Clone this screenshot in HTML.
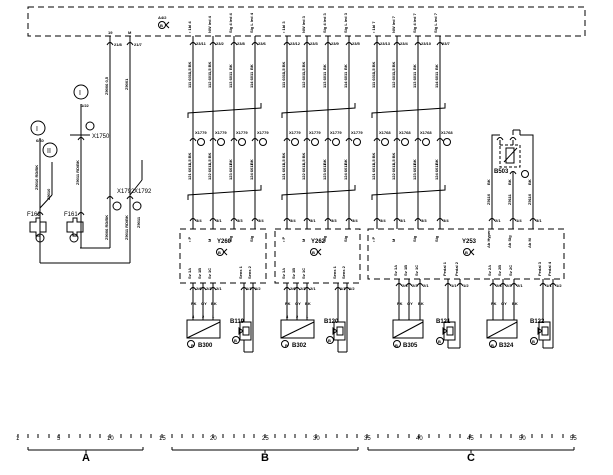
<!DOCTYPE html>
<html><head><meta charset="utf-8"><style>
html,body{margin:0;padding:0;background:#fff}
svg{display:block}
text{font-family:"Liberation Sans",sans-serif;fill:#000}
.t{font-size:4px;font-weight:bold}
.m{font-size:6px}
.l{font-size:7px}
.big{font-size:11px;font-weight:bold}
</style></head><body>
<svg width="613" height="475" viewBox="0 0 613 475" xmlns="http://www.w3.org/2000/svg">
<g stroke="#000" fill="none" stroke-width="1">
<!-- top dashed box -->
<rect x="28" y="7" width="557" height="29" stroke-dasharray="6,4"/>
</g>
<text x="158" y="19" class="t">A4/2</text>
<circle cx="162" cy="25" r="3.5" stroke="#000" fill="none"/><text x="160" y="27" class="t">B</text>
<path d="M169 22 L166 25 L169 28" stroke="#000" fill="none"/>

<!-- Section A -->
<g stroke="#000" fill="none" stroke-width="1">
<line x1="110" y1="36" x2="110" y2="248"/>
<line x1="130" y1="36" x2="130" y2="263"/>
<path d="M107 45 Q110 40 113 45"/><path d="M127 45 Q130 40 133 45"/>
<path d="M107 199 Q110 194 113 199"/><path d="M127 199 Q130 194 133 199"/>
<line x1="142" y1="160" x2="142" y2="180"/><line x1="142" y1="180" x2="130" y2="195"/>
<line x1="110" y1="248" x2="80" y2="248"/>
<line x1="40" y1="263" x2="130" y2="263"/>
<circle cx="81" cy="92" r="7"/>
<line x1="81" y1="104" x2="81" y2="248"/>
<line x1="70" y1="135" x2="90" y2="135"/>
<path d="M78 140 Q81 135 84 140"/>
<circle cx="38" cy="128" r="7"/>
<circle cx="50" cy="150" r="7"/>
<line x1="40" y1="138" x2="40" y2="263"/>
<line x1="52" y1="162" x2="52" y2="195"/><line x1="52" y1="195" x2="40" y2="208"/>
<!-- fuses -->
<path d="M30 222 h6 v-4 h4 v4 h6 v10 h-6 v4 h-4 v-4 h-6 z"/>
<path d="M67 222 h6 v-4 h4 v4 h6 v10 h-6 v4 h-4 v-4 h-6 z"/>
<path d="M37 215 Q40 210 43 215"/><path d="M78 215 Q81 210 84 215"/>
<circle cx="40" cy="238" r="4"/><circle cx="74" cy="238" r="4"/>
<circle cx="117" cy="206" r="4"/><circle cx="137" cy="206" r="4"/>
<circle cx="90" cy="126" r="4"/>
</g>
<text x="79" y="95" class="l">I</text><text x="81" y="107" class="t">1/22</text>
<text x="36" y="131" class="l">I</text><text x="47" y="153" class="l">II</text>
<text x="36" y="142" class="t">6/60</text>
<text x="27" y="216" class="m">F162</text><text x="64" y="216" class="m">F161</text>
<text x="117" y="193" class="m">X1792</text><text x="134" y="193" class="m">X1792</text>
<text x="92" y="138" class="m">X1750</text>
<text x="108" y="34" class="t">19</text><text x="128" y="34" class="t">M</text>
<text x="114" y="46" class="t">21/8</text><text x="134" y="46" class="t">21/7</text>
<g class="t">
<text transform="translate(108,95) rotate(-90)">Z9006 0,5</text>
<text transform="translate(128,90) rotate(-90)">Z9001</text>
<text transform="translate(108,240) rotate(-90)">Z9006 RD/BK</text>
<text transform="translate(128,240) rotate(-90)">Z9011 RD/BK</text>
<text transform="translate(79,185) rotate(-90)">Z9011 RD/BK</text>
<text transform="translate(38,190) rotate(-90)">Z9010 RD/BK</text>
<text transform="translate(50,200) rotate(-90)">Z9010</text>
<text transform="translate(140,228) rotate(-90)">Z9011</text>
</g>

<!-- group template B1 -->
<g id="g1">
<g stroke="#000" fill="none">
<line x1="193" y1="36" x2="193" y2="229"/><line x1="213" y1="36" x2="213" y2="229"/>
<line x1="234" y1="36" x2="234" y2="229"/><line x1="255" y1="36" x2="255" y2="229"/>
<path d="M190 45 Q193 40 196 45"/><path d="M210 45 Q213 40 216 45"/><path d="M231 45 Q234 40 237 45"/><path d="M252 45 Q255 40 258 45"/>
<path d="M190 141 Q193 136 196 141"/><path d="M210 141 Q213 136 216 141"/><path d="M231 141 Q234 136 237 141"/><path d="M252 141 Q255 136 258 141"/>
<path d="M190 221 Q193 216 196 221"/><path d="M210 221 Q213 216 216 221"/><path d="M231 221 Q234 216 237 221"/><path d="M252 221 Q255 216 258 221"/>
<path d="M188 118 V113 L261 108 V103"/>
<path d="M188 200 V195 L261 190 V185"/>
<circle cx="201" cy="142" r="3.5"/><circle cx="221" cy="142" r="3.5"/><circle cx="242" cy="142" r="3.5"/><circle cx="263" cy="142" r="3.5"/>
</g>
<g class="t">
<text x="195" y="134">X1779</text><text x="215" y="134">X1779</text><text x="236" y="134">X1779</text><text x="257" y="134">X1779</text>
<text x="196" y="45">23/11</text><text x="216" y="45">23/2</text><text x="237" y="45">23/8</text><text x="258" y="45">23/6</text>
<text transform="translate(191,33) rotate(-90)">• 1bI 4</text><text transform="translate(211,33) rotate(-90)">NW led 4</text>
<text transform="translate(232,33) rotate(-90)">Sig 4 led 4</text><text transform="translate(253,33) rotate(-90)">Sig L led 4</text>
<text transform="translate(191,74) rotate(-90)">1,5 BK</text><text transform="translate(211,74) rotate(-90)">1,5 BK</text><text transform="translate(232,70) rotate(-90)">BK</text><text transform="translate(253,70) rotate(-90)">BK</text>
<text transform="translate(191,88) rotate(-90)">111 6011</text><text transform="translate(211,88) rotate(-90)">112 6011</text><text transform="translate(232,88) rotate(-90)">113 6011</text><text transform="translate(253,88) rotate(-90)">114 6011</text>
<text transform="translate(191,165) rotate(-90)">1,5 BK</text><text transform="translate(211,165) rotate(-90)">1,5 BK</text><text transform="translate(232,165) rotate(-90)">BK</text><text transform="translate(253,165) rotate(-90)">BK</text>
<text transform="translate(191,180) rotate(-90)">121 6011</text><text transform="translate(211,180) rotate(-90)">122 6011</text><text transform="translate(232,180) rotate(-90)">123 6011</text><text transform="translate(253,180) rotate(-90)">124 6011</text>
<text x="196" y="222">3/4</text><text x="216" y="222">3/1</text><text x="237" y="222">3/3</text><text x="258" y="222">3/4</text>
<text transform="translate(191,242) rotate(-90)">• P</text><text transform="translate(211,242) rotate(-90)">M</text><text transform="translate(232,242) rotate(-90)">Sig</text><text transform="translate(253,242) rotate(-90)">Sig</text>
<text transform="translate(191,279) rotate(-90)">Sv 1A</text><text transform="translate(201,279) rotate(-90)">Sv 1B</text><text transform="translate(211,279) rotate(-90)">Sv 1C</text>
<text transform="translate(242,279) rotate(-90)">Sens 1</text><text transform="translate(251,279) rotate(-90)">Sens 2</text>
<text x="196" y="290">2/6</text><text x="206" y="290">2/3</text><text x="216" y="290">2/1</text><text x="246" y="290">1/1</text><text x="255" y="290">1/2</text>
</g>
<g stroke="#000" fill="none">
<rect x="180" y="229" width="86" height="54" stroke-dasharray="6,4"/>
<line x1="193" y1="283" x2="193" y2="320"/><line x1="203" y1="283" x2="203" y2="320"/><line x1="213" y1="283" x2="213" y2="320"/>
<path d="M190 290 Q193 285 196 290"/><path d="M200 290 Q203 285 206 290"/><path d="M210 290 Q213 285 216 290"/>
<path d="M241 290 Q244 285 247 290"/><path d="M250 290 Q253 285 256 290"/>
<rect x="187" y="320" width="33" height="18"/><line x1="187" y1="338" x2="220" y2="322"/>
<line x1="244" y1="283" x2="244" y2="322"/><line x1="253" y1="283" x2="253" y2="352"/>
<line x1="253" y1="352" x2="244" y2="352"/><line x1="244" y1="352" x2="244" y2="340"/>
<rect x="240" y="322" width="11" height="18"/><rect x="243" y="327" width="6" height="8"/>
<path d="M243 331 L239 328 V334 Z"/>
<circle cx="191" cy="344" r="3.5"/><circle cx="236" cy="340" r="3.5"/>
<circle cx="220" cy="252" r="3.5"/><path d="M227 249 L224 252 L227 255"/>
</g>
<g class="t">
<text x="191" y="347">B</text><text x="198" y="347" class="m">B300</text>
<text x="230" y="323" class="m">B119</text><text x="234" y="342">B</text>
<text x="217" y="243" class="m">Y260</text><text x="218" y="254">B</text>
<text x="191" y="305">PK</text><text x="201" y="305">GY</text><text x="211" y="305">BK</text>
<text x="192" y="318">4</text><text x="202" y="318">2</text><text x="212" y="318">1</text>
</g>
</g>
<!-- B2 -->
<g transform="translate(94,0)">
<g stroke="#000" fill="none">
<line x1="193" y1="36" x2="193" y2="229"/><line x1="213" y1="36" x2="213" y2="229"/>
<line x1="234" y1="36" x2="234" y2="229"/><line x1="255" y1="36" x2="255" y2="229"/>
<path d="M190 45 Q193 40 196 45"/><path d="M210 45 Q213 40 216 45"/><path d="M231 45 Q234 40 237 45"/><path d="M252 45 Q255 40 258 45"/>
<path d="M190 141 Q193 136 196 141"/><path d="M210 141 Q213 136 216 141"/><path d="M231 141 Q234 136 237 141"/><path d="M252 141 Q255 136 258 141"/>
<path d="M190 221 Q193 216 196 221"/><path d="M210 221 Q213 216 216 221"/><path d="M231 221 Q234 216 237 221"/><path d="M252 221 Q255 216 258 221"/>
<path d="M188 118 V113 L261 108 V103"/>
<path d="M188 200 V195 L261 190 V185"/>
<circle cx="201" cy="142" r="3.5"/><circle cx="221" cy="142" r="3.5"/><circle cx="242" cy="142" r="3.5"/><circle cx="263" cy="142" r="3.5"/>
<rect x="181" y="229" width="85" height="54" stroke-dasharray="6,4"/>
<line x1="193" y1="283" x2="193" y2="320"/><line x1="203" y1="283" x2="203" y2="320"/><line x1="213" y1="283" x2="213" y2="320"/>
<path d="M190 290 Q193 285 196 290"/><path d="M200 290 Q203 285 206 290"/><path d="M210 290 Q213 285 216 290"/>
<path d="M241 290 Q244 285 247 290"/><path d="M250 290 Q253 285 256 290"/>
<rect x="187" y="320" width="33" height="18"/><line x1="187" y1="338" x2="220" y2="322"/>
<line x1="244" y1="283" x2="244" y2="322"/><line x1="253" y1="283" x2="253" y2="352"/>
<line x1="253" y1="352" x2="244" y2="352"/><line x1="244" y1="352" x2="244" y2="340"/>
<rect x="240" y="322" width="11" height="18"/><rect x="243" y="327" width="6" height="8"/>
<path d="M243 331 L239 328 V334 Z"/>
<circle cx="191" cy="344" r="3.5"/><circle cx="236" cy="340" r="3.5"/>
<circle cx="220" cy="252" r="3.5"/><path d="M227 249 L224 252 L227 255"/>
</g>
<g class="t">
<text x="195" y="134">X1779</text><text x="215" y="134">X1779</text><text x="236" y="134">X1779</text><text x="257" y="134">X1779</text>
<text x="196" y="45">23/12</text><text x="216" y="45">23/3</text><text x="237" y="45">23/9</text><text x="258" y="45">23/5</text>
<text transform="translate(191,33) rotate(-90)">• 1bI 3</text><text transform="translate(211,33) rotate(-90)">NW led 3</text>
<text transform="translate(232,33) rotate(-90)">Sig 4 led 3</text><text transform="translate(253,33) rotate(-90)">Sig L led 3</text>
<text transform="translate(191,74) rotate(-90)">1,5 BK</text><text transform="translate(211,74) rotate(-90)">1,5 BK</text><text transform="translate(232,70) rotate(-90)">BK</text><text transform="translate(253,70) rotate(-90)">BK</text>
<text transform="translate(191,88) rotate(-90)">111 6011</text><text transform="translate(211,88) rotate(-90)">112 6011</text><text transform="translate(232,88) rotate(-90)">113 6011</text><text transform="translate(253,88) rotate(-90)">114 6011</text>
<text transform="translate(191,165) rotate(-90)">1,5 BK</text><text transform="translate(211,165) rotate(-90)">1,5 BK</text><text transform="translate(232,165) rotate(-90)">BK</text><text transform="translate(253,165) rotate(-90)">BK</text>
<text transform="translate(191,180) rotate(-90)">121 6011</text><text transform="translate(211,180) rotate(-90)">122 6011</text><text transform="translate(232,180) rotate(-90)">123 6011</text><text transform="translate(253,180) rotate(-90)">124 6011</text>
<text x="196" y="222">3/4</text><text x="216" y="222">3/1</text><text x="237" y="222">3/3</text><text x="258" y="222">3/4</text>
<text transform="translate(191,242) rotate(-90)">• P</text><text transform="translate(211,242) rotate(-90)">M</text><text transform="translate(232,242) rotate(-90)">Sig</text><text transform="translate(253,242) rotate(-90)">Sig</text>
<text transform="translate(191,279) rotate(-90)">Sv 1A</text><text transform="translate(201,279) rotate(-90)">Sv 1B</text><text transform="translate(211,279) rotate(-90)">Sv 1C</text>
<text transform="translate(242,279) rotate(-90)">Sens 1</text><text transform="translate(251,279) rotate(-90)">Sens 2</text>
<text x="196" y="290">2/6</text><text x="206" y="290">2/3</text><text x="216" y="290">2/1</text><text x="246" y="290">1/1</text><text x="255" y="290">1/2</text>
<text x="191" y="347">B</text><text x="198" y="347" class="m">B302</text>
<text x="230" y="323" class="m">B120</text><text x="234" y="342">B</text>
<text x="217" y="243" class="m">Y262</text><text x="218" y="254">B</text>
<text x="191" y="305">PK</text><text x="201" y="305">GY</text><text x="211" y="305">BK</text>
<text x="192" y="318">4</text><text x="202" y="318">2</text><text x="212" y="318">1</text>
</g>
</g>
<!-- C left wires -->
<g transform="translate(184,0)">
<g stroke="#000" fill="none">
<line x1="193" y1="36" x2="193" y2="229"/><line x1="213" y1="36" x2="213" y2="229"/>
<line x1="234" y1="36" x2="234" y2="229"/><line x1="256" y1="36" x2="256" y2="229"/>
<path d="M190 45 Q193 40 196 45"/><path d="M210 45 Q213 40 216 45"/><path d="M231 45 Q234 40 237 45"/><path d="M253 45 Q256 40 259 45"/>
<path d="M190 141 Q193 136 196 141"/><path d="M210 141 Q213 136 216 141"/><path d="M231 141 Q234 136 237 141"/><path d="M253 141 Q256 136 259 141"/>
<path d="M190 221 Q193 216 196 221"/><path d="M210 221 Q213 216 216 221"/><path d="M231 221 Q234 216 237 221"/><path d="M253 221 Q256 216 259 221"/>
<path d="M188 118 V113 L261 108 V103"/>
<path d="M188 200 V195 L261 190 V185"/>
<circle cx="201" cy="142" r="3.5"/><circle cx="221" cy="142" r="3.5"/><circle cx="242" cy="142" r="3.5"/><circle cx="263" cy="142" r="3.5"/>
</g>
<g class="t">
<text x="195" y="134">X1768</text><text x="215" y="134">X1768</text><text x="236" y="134">X1768</text><text x="257" y="134">X1768</text>
<text x="196" y="45">23/13</text><text x="216" y="45">23/4</text><text x="237" y="45">23/10</text><text x="258" y="45">23/7</text>
<text transform="translate(191,33) rotate(-90)">• 1bI 7</text><text transform="translate(211,33) rotate(-90)">NW led 7</text>
<text transform="translate(232,33) rotate(-90)">Sig 4 led 7</text><text transform="translate(253,33) rotate(-90)">Sig L led 7</text>
<text transform="translate(191,74) rotate(-90)">1,5 BK</text><text transform="translate(211,74) rotate(-90)">1,5 BK</text><text transform="translate(232,70) rotate(-90)">BK</text><text transform="translate(254,70) rotate(-90)">BK</text>
<text transform="translate(191,88) rotate(-90)">111 6011</text><text transform="translate(211,88) rotate(-90)">112 6011</text><text transform="translate(232,88) rotate(-90)">113 6011</text><text transform="translate(254,88) rotate(-90)">114 6011</text>
<text transform="translate(191,165) rotate(-90)">1,5 BK</text><text transform="translate(211,165) rotate(-90)">1,5 BK</text><text transform="translate(232,165) rotate(-90)">BK</text><text transform="translate(254,165) rotate(-90)">BK</text>
<text transform="translate(191,180) rotate(-90)">121 6011</text><text transform="translate(211,180) rotate(-90)">122 6011</text><text transform="translate(232,180) rotate(-90)">123 6011</text><text transform="translate(254,180) rotate(-90)">124 6011</text>
<text x="196" y="222">3/4</text><text x="216" y="222">3/1</text><text x="237" y="222">3/3</text><text x="259" y="222">3/4</text>
<text transform="translate(191,242) rotate(-90)">• P</text><text transform="translate(211,242) rotate(-90)">M</text><text transform="translate(232,242) rotate(-90)">Sig</text><text transform="translate(254,242) rotate(-90)">Sig</text>
</g>
</g>
<!-- C right -->
<g stroke="#000" fill="none">
<rect x="368" y="229" width="196" height="50" stroke-dasharray="6,4"/>
<path d="M492 229 V135 H500 M513 229 V172 M533 229 V135 H520"/>
<path d="M497 140 Q500 135 503 140"/><path d="M510 140 Q513 135 516 140"/>
<rect x="500" y="145" width="20" height="22" stroke-dasharray="3,2"/>
<rect x="506" y="148" width="8" height="15"/><line x1="504" y1="162" x2="517" y2="148"/>
<line x1="500" y1="140" x2="500" y2="145"/><line x1="513" y1="140" x2="513" y2="145"/>
<line x1="513" y1="135" x2="513" y2="130"/><line x1="513" y1="130" x2="520" y2="130"/><line x1="520" y1="130" x2="520" y2="135"/>
<path d="M510 174 Q513 169 516 174"/>
<circle cx="525" cy="174" r="3.5"/>
<path d="M489 221 Q492 216 495 221"/><path d="M510 221 Q513 216 516 221"/><path d="M530 221 Q533 216 536 221"/>
<circle cx="467" cy="252" r="3.5"/><path d="M474 249 L471 252 L474 255"/>
<!-- relays/sensors C -->
<line x1="399" y1="279" x2="399" y2="320"/><line x1="409" y1="279" x2="409" y2="320"/><line x1="420" y1="279" x2="420" y2="320"/>
<path d="M396 286 Q399 281 402 286"/><path d="M406 286 Q409 281 412 286"/><path d="M417 286 Q420 281 423 286"/>
<rect x="393" y="320" width="30" height="18"/><line x1="393" y1="338" x2="423" y2="322"/>
<circle cx="397" cy="344" r="3.5"/>
<line x1="448" y1="279" x2="448" y2="322"/><line x1="460" y1="279" x2="460" y2="348"/>
<path d="M445 286 Q448 281 451 286"/><path d="M457 286 Q460 281 463 286"/>
<line x1="460" y1="348" x2="448" y2="348"/><line x1="448" y1="348" x2="448" y2="340"/>
<rect x="444" y="322" width="11" height="18"/><rect x="447" y="327" width="6" height="8"/><path d="M447 331 L443 328 V334 Z"/>
<circle cx="440" cy="341" r="3.5"/>
<line x1="493" y1="279" x2="493" y2="320"/><line x1="503" y1="279" x2="503" y2="320"/><line x1="514" y1="279" x2="514" y2="320"/>
<path d="M490 286 Q493 281 496 286"/><path d="M500 286 Q503 281 506 286"/><path d="M511 286 Q514 281 517 286"/>
<rect x="487" y="320" width="30" height="18"/><line x1="487" y1="338" x2="517" y2="322"/>
<circle cx="493" cy="344" r="3.5"/>
<line x1="543" y1="279" x2="543" y2="322"/><line x1="553" y1="279" x2="553" y2="348"/>
<path d="M540 286 Q543 281 546 286"/><path d="M550 286 Q553 281 556 286"/>
<line x1="553" y1="348" x2="543" y2="348"/><line x1="543" y1="348" x2="543" y2="340"/>
<rect x="539" y="322" width="11" height="18"/><rect x="542" y="327" width="6" height="8"/><path d="M542 331 L538 328 V334 Z"/>
<circle cx="534" cy="341" r="3.5"/>
</g>
<g class="t">
<text x="494" y="173" class="m">B503</text>
<text x="462" y="243" class="m">Y253</text><text x="465" y="254">B</text>
<text transform="translate(490,205) rotate(-90)">Z9110</text><text transform="translate(511,205) rotate(-90)">Z9111</text><text transform="translate(531,205) rotate(-90)">Z9110</text>
<text transform="translate(490,185) rotate(-90)">BK</text><text transform="translate(511,185) rotate(-90)">BK</text><text transform="translate(531,185) rotate(-90)">BK</text>
<text x="495" y="222">2/1</text><text x="516" y="222">1/4</text><text x="536" y="222">3/1</text>
<text transform="translate(490,248) rotate(-90)">Ab Hyper</text><text transform="translate(511,248) rotate(-90)">Ab Sig</text><text transform="translate(531,248) rotate(-90)">Ab M</text>
<text transform="translate(397,276) rotate(-90)">Sv 1A</text><text transform="translate(407,276) rotate(-90)">Sv 1B</text><text transform="translate(418,276) rotate(-90)">Sv 1C</text>
<text transform="translate(446,276) rotate(-90)">Pedal 1</text><text transform="translate(458,276) rotate(-90)">Pedal 2</text>
<text transform="translate(491,276) rotate(-90)">Sv 2A</text><text transform="translate(501,276) rotate(-90)">Sv 2B</text><text transform="translate(512,276) rotate(-90)">Sv 2C</text>
<text transform="translate(541,276) rotate(-90)">Pedal 3</text><text transform="translate(551,276) rotate(-90)">Pedal 4</text>
<text x="402" y="287">2/6</text><text x="412" y="287">2/3</text><text x="423" y="287">2/1</text><text x="451" y="287">1/1</text><text x="463" y="287">1/2</text>
<text x="496" y="287">2/6</text><text x="506" y="287">2/3</text><text x="517" y="287">2/1</text><text x="546" y="287">1/1</text><text x="556" y="287">1/2</text>
<text x="397" y="305">PK</text><text x="407" y="305">GY</text><text x="418" y="305">BK</text>
<text x="491" y="305">PK</text><text x="501" y="305">GY</text><text x="512" y="305">BK</text>
<text x="395" y="347">B</text><text x="403" y="347" class="m">B305</text>
<text x="491" y="347">B</text><text x="499" y="347" class="m">B324</text>
<text x="436" y="323" class="m">B121</text><text x="438" y="343">B</text>
<text x="530" y="323" class="m">B122</text><text x="532" y="343">B</text>
</g>

<!-- scale -->
<g stroke="#000" fill="none">
<line x1="28" y1="450" x2="143" y2="450"/><line x1="28" y1="447" x2="28" y2="450"/><line x1="143" y1="447" x2="143" y2="450"/><line x1="86" y1="450" x2="86" y2="453"/>
<line x1="172" y1="450" x2="358" y2="450"/><line x1="172" y1="447" x2="172" y2="450"/><line x1="358" y1="447" x2="358" y2="450"/><line x1="265" y1="450" x2="265" y2="453"/>
<line x1="368" y1="450" x2="574" y2="450"/><line x1="368" y1="447" x2="368" y2="450"/><line x1="574" y1="447" x2="574" y2="450"/><line x1="471" y1="450" x2="471" y2="453"/>
<path d="M18 434v4M28 434v4M38 434v4M49 434v4M59 434v4M69 434v4M80 434v4M90 434v4M100 434v4M110 434v4M121 434v4M131 434v4M141 434v4M151 434v4M162 434v4M172 434v4M182 434v4M193 434v4M203 434v4M213 434v4M223 434v4M234 434v4M244 434v4M254 434v4M265 434v4M275 434v4M285 434v4M295 434v4M306 434v4M316 434v4M326 434v4M337 434v4M347 434v4M357 434v4M367 434v4M378 434v4M388 434v4M398 434v4M409 434v4M419 434v4M429 434v4M439 434v4M450 434v4M460 434v4M470 434v4M481 434v4M491 434v4M501 434v4M511 434v4M522 434v4M532 434v4M542 434v4M552 434v4M563 434v4M573 434v4"/>
</g>
<g class="m">
<text x="16" y="440">1</text><text x="57" y="440">5</text><text x="107" y="440">10</text><text x="159" y="440">15</text>
<text x="210" y="440">20</text><text x="262" y="440">25</text><text x="313" y="440">30</text><text x="364" y="440">35</text>
<text x="416" y="440">40</text><text x="467" y="440">45</text><text x="519" y="440">50</text><text x="570" y="440">55</text>
</g>
<text x="82" y="461" class="big">A</text><text x="261" y="461" class="big">B</text><text x="467" y="461" class="big">C</text>
</svg>
</body></html>
